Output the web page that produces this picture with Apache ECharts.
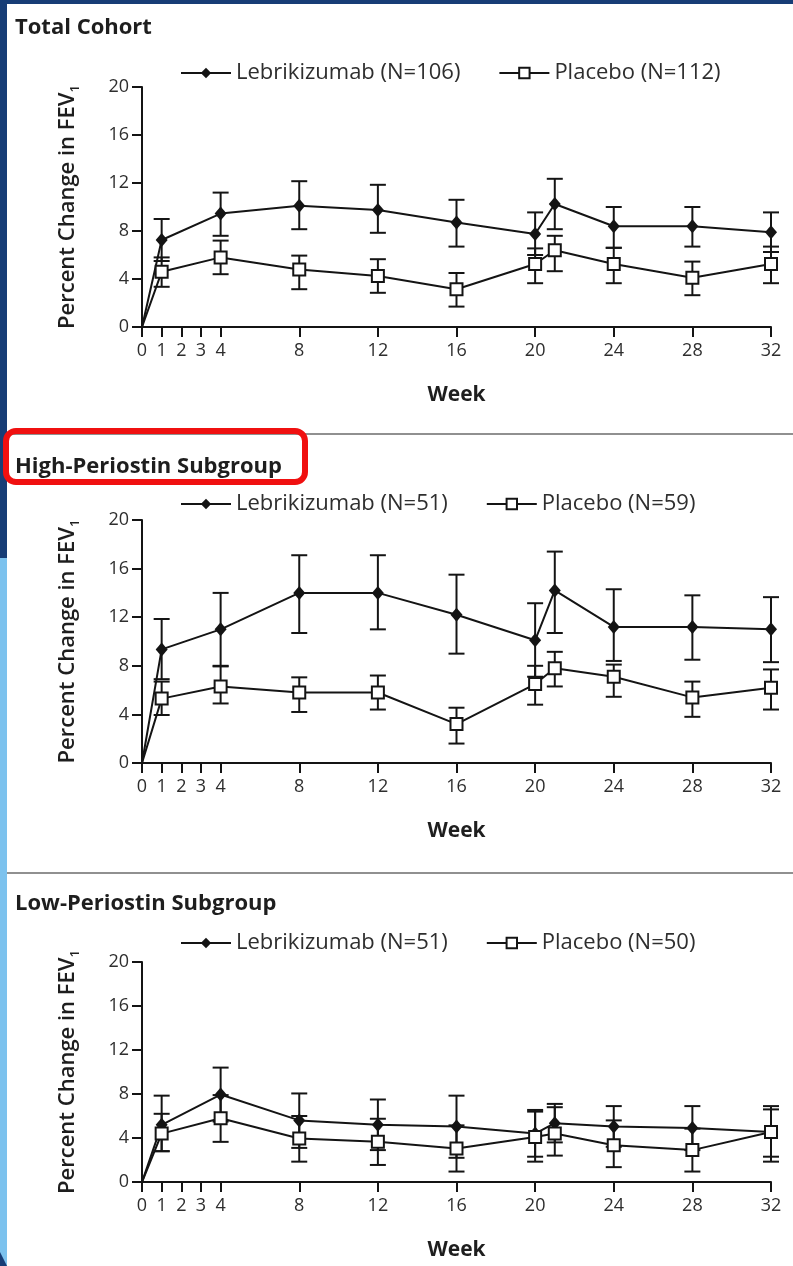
<!DOCTYPE html>
<html>
<head>
<meta charset="utf-8">
<script src="https://cdn.jsdelivr.net/npm/echarts@6/dist/echarts.min.js"></script>
<style>
  html, body { margin: 0; padding: 0; background: #173d76; }
  #chart { width: 793px; height: 1266px; }
</style>
</head>
<body>
<div id="chart"></div>
<script>
// Study weeks at which FEV1 was measured
const weeks = [0, 1, 4, 8, 12, 16, 20, 21, 24, 28, 32];
const weekTicks = [0, 1, 2, 3, 4, 8, 12, 16, 20, 24, 28, 32];

// Panel titles and legend labels
const panelTitles = ['Total Cohort', 'High-Periostin Subgroup', 'Low-Periostin Subgroup'];
const lebNames = ['Lebrikizumab (N=106)', 'Lebrikizumab (N=51)', 'Lebrikizumab (N=51)'];
const pboNames = ['Placebo (N=112)', 'Placebo (N=59)', 'Placebo (N=50)'];

// Total cohort: mean percent change and error-bar limits
const lebTotal   = [0, 7.25, 9.45, 10.1, 9.75, 8.7, 7.75, 10.25, 8.4, 8.4, 7.9];
const lebTotalLo = [null, 5.5, 7.6, 8.15, 7.85, 6.7, 6.0, 8.15, 6.6, 6.7, 6.25];
const lebTotalHi = [null, 9.0, 11.2, 12.15, 11.85, 10.6, 9.55, 12.35, 10.0, 10.0, 9.55];
const pboTotal   = [0, 4.6, 5.8, 4.8, 4.25, 3.15, 5.25, 6.4, 5.25, 4.1, 5.25];
const pboTotalLo = [null, 3.35, 4.4, 3.15, 2.85, 1.7, 3.65, 4.65, 3.65, 2.65, 3.65];
const pboTotalHi = [null, 5.8, 7.2, 5.95, 5.65, 4.5, 6.55, 7.6, 6.6, 5.45, 6.7];

// High-periostin subgroup
const lebHigh   = [0, 9.35, 11.0, 14.0, 14.0, 12.2, 10.1, 14.2, 11.2, 11.2, 11.0];
const lebHighLo = [null, 6.9, 8.0, 10.7, 11.0, 9.0, 7.1, 10.7, 8.4, 8.5, 8.3];
const lebHighHi = [null, 11.85, 14.0, 17.1, 17.1, 15.5, 13.15, 17.4, 14.3, 13.8, 13.65];
const pboHigh   = [0, 5.3, 6.3, 5.8, 5.8, 3.2, 6.5, 7.8, 7.1, 5.4, 6.2];
const pboHighLo = [null, 3.95, 4.9, 4.2, 4.4, 1.6, 4.8, 6.3, 5.45, 3.8, 4.4];
const pboHighHi = [null, 6.7, 7.95, 7.05, 7.2, 4.55, 8.0, 9.15, 8.1, 6.7, 7.7];

// Low-periostin subgroup
const lebLow   = [0, 5.2, 7.95, 5.6, 5.2, 5.05, 4.4, 5.35, 5.05, 4.9, 4.55];
const lebLowLo = [null, 2.8, 5.5, 3.1, 2.9, 2.2, 2.3, 3.6, 3.2, 2.9, 2.3];
const lebLowHi = [null, 7.85, 10.4, 8.05, 7.5, 7.85, 6.55, 7.1, 6.9, 6.9, 6.9];
const pboLow   = [0, 4.4, 5.8, 3.95, 3.65, 3.05, 4.1, 4.4, 3.35, 2.9, 4.55];
const pboLowLo = [null, 2.8, 3.65, 1.85, 1.55, 0.95, 1.85, 2.4, 1.35, 0.95, 1.85];
const pboLowHi = [null, 6.2, 7.9, 6.0, 5.75, 5.15, 6.4, 6.8, 5.6, 4.85, 6.6];

const panels = [
  { leb: [lebTotal, lebTotalLo, lebTotalHi], pbo: [pboTotal, pboTotalLo, pboTotalHi] },
  { leb: [lebHigh, lebHighLo, lebHighHi],    pbo: [pboHigh, pboHighLo, pboHighHi] },
  { leb: [lebLow, lebLowLo, lebLowHi],       pbo: [pboLow, pboLowLo, pboLowHi] }
];

const FONT = 'Open Sans';
const INK = '#141414';
const TEXT = '#2e2e2e';

// Plot-area layout of the three stacked panels
const gridBoxes = [
  { left: 142, top: 87,  width: 629, height: 240 },
  { left: 142, top: 520, width: 629, height: 243 },
  { left: 142, top: 962, width: 629, height: 220 }
];
const titleTop = [17, 456, 893];
const legendTop = [57, 488, 927];

function lineData(vals) {
  return weeks.map((w, i) => i === 0 ? { value: [w, vals[i]], symbol: 'none' } : [w, vals[i]]);
}
function errData(lo, hi) {
  const out = [];
  weeks.forEach((w, i) => { if (lo[i] != null) out.push([w, lo[i], hi[i]]); });
  return out;
}
function renderErr(params, api) {
  const x = api.value(0);
  const a = api.coord([x, api.value(1)]);
  const b = api.coord([x, api.value(2)]);
  const hw = 8;
  const st = { stroke: INK, lineWidth: 2 };
  return {
    type: 'group',
    children: [
      { type: 'line', shape: { x1: a[0], y1: a[1], x2: b[0], y2: b[1] }, style: st },
      { type: 'line', shape: { x1: a[0] - hw, y1: a[1], x2: a[0] + hw, y2: a[1] }, style: st },
      { type: 'line', shape: { x1: b[0] - hw, y1: b[1], x2: b[0] + hw, y2: b[1] }, style: st }
    ]
  };
}

const xAxes = [], yAxes = [], series = [], legends = [], graphics = [];

// Page background: blue frame with white sheet
graphics.push({ type: 'rect', z: -10, shape: { x: 0, y: 558, width: 7, height: 708 }, style: { fill: '#7cc2ee' } });
graphics.push({ type: 'polygon', z: -9, shape: { points: [[0, 1252], [7, 1266], [0, 1266]] }, style: { fill: '#173d76' } });
graphics.push({ type: 'rect', z: -8, shape: { x: 7, y: 4, width: 786, height: 1262 }, style: { fill: '#ffffff' } });
// Panel separators
graphics.push({ type: 'line', z: -5, shape: { x1: 7, y1: 434, x2: 793, y2: 434 }, style: { stroke: '#6b6b6b', lineWidth: 1.5 } });
graphics.push({ type: 'line', z: -5, shape: { x1: 7, y1: 873, x2: 793, y2: 873 }, style: { stroke: '#6b6b6b', lineWidth: 1.5 } });

panels.forEach((p, k) => {
  xAxes.push({
    type: 'value', gridIndex: k, min: 0, max: 32,
    name: 'Week', nameLocation: 'middle', nameGap: 58,
    nameTextStyle: { fontFamily: FONT, fontSize: 21, fontWeight: 'bold', color: '#1e1e1e' },
    axisLine: { show: true, lineStyle: { color: INK, width: 2 } },
    axisTick: { show: true, customValues: weekTicks, length: 10, lineStyle: { color: INK, width: 2 } },
    axisLabel: { customValues: weekTicks, margin: 15, fontFamily: FONT, fontSize: 18, color: TEXT },
    splitLine: { show: false }
  });
  yAxes.push({
    type: 'value', gridIndex: k, min: 0, max: 20, interval: 4,
    name: '{a|Percent Change in FEV}{b|1}', nameLocation: 'middle', nameGap: 60, nameRotate: 90,
    nameTextStyle: {
      rich: {
        a: { fontFamily: FONT, fontSize: 22, fontWeight: 600, color: '#1e1e1e', lineHeight: 28 },
        b: { fontFamily: FONT, fontSize: 13, fontWeight: 600, color: '#1e1e1e', lineHeight: 28, verticalAlign: 'bottom' }
      }
    },
    axisLine: { show: true, lineStyle: { color: INK, width: 2 } },
    axisTick: { show: true, length: 10, lineStyle: { color: INK, width: 2 } },
    axisLabel: { margin: 13, fontFamily: FONT, fontSize: 18, color: TEXT },
    splitLine: { show: false }
  });

  series.push({
    type: 'custom', name: lebNames[k] + ' SE', xAxisIndex: k, yAxisIndex: k, z: 2,
    renderItem: renderErr, data: errData(p.leb[1], p.leb[2]), silent: true
  });
  series.push({
    type: 'custom', name: pboNames[k] + ' SE', xAxisIndex: k, yAxisIndex: k, z: 2,
    renderItem: renderErr, data: errData(p.pbo[1], p.pbo[2]), silent: true
  });
  series.push({
    type: 'line', name: lebNames[k], xAxisIndex: k, yAxisIndex: k, z: 3,
    data: lineData(p.leb[0]),
    symbol: 'diamond', symbolSize: [12, 14], showAllSymbol: true,
    lineStyle: { color: INK, width: 2 },
    itemStyle: { color: INK, borderColor: INK, borderWidth: 0 },
    emphasis: { disabled: true }, animation: false
  });
  series.push({
    type: 'line', name: pboNames[k], xAxisIndex: k, yAxisIndex: k, z: 4,
    data: lineData(p.pbo[0]),
    symbol: 'rect', symbolSize: 12, showAllSymbol: true,
    lineStyle: { color: INK, width: 2 },
    itemStyle: { color: '#ffffff', borderColor: INK, borderWidth: 2 },
    emphasis: { disabled: true }, animation: false
  });

  legends.push({
    left: 175, top: legendTop[k], orient: 'horizontal',
    itemWidth: 50, itemHeight: 13, itemGap: 38,
    data: [lebNames[k], pboNames[k]],
    selectedMode: false,
    textStyle: { fontFamily: FONT, fontSize: 22, color: TEXT }
  });

  graphics.push({
    type: 'text', left: 15, top: titleTop[k],
    style: { text: panelTitles[k], fontFamily: FONT, fontSize: 22, fontWeight: 'bold', fill: '#1e1e1e' }
  });
});

// Highlight frame around the high-periostin heading
graphics.push({
  type: 'rect', z: 100,
  shape: { x: 6, y: 431, width: 299, height: 51, r: 10 },
  style: { fill: 'none', stroke: '#f01010', lineWidth: 6 }
});

const chart = echarts.init(document.getElementById('chart'), null, { renderer: 'canvas' });
chart.setOption({
  backgroundColor: '#173d76',
  animation: false,
  grid: gridBoxes,
  xAxis: xAxes,
  yAxis: yAxes,
  legend: legends,
  series: series,
  graphic: graphics
});
</script>
</body>
</html>
